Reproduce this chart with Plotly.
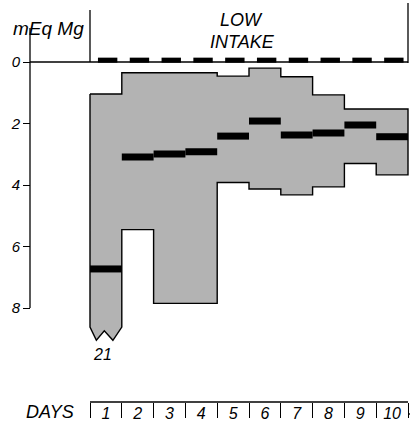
import plotly.graph_objects as go

# ---- data (mEq Mg per day) ----
days = [1, 2, 3, 4, 5, 6, 7, 8, 9, 10]
day_labels = ["1", "2", "3", "4", "5", "6", "7", "8", "9", "10"]
range_low = [1.04, 0.35, 0.35, 0.35, 0.46, 0.20, 0.48, 1.07, 1.53, 1.53]
range_high = [21.0, 5.45, 7.85, 7.85, 3.92, 4.13, 4.32, 4.06, 3.30, 3.67]
mean_vals = [6.73, 3.09, 2.99, 2.92, 2.41, 1.92, 2.37, 2.31, 2.05, 2.43]
intake_vals = [0, 0, 0, 0, 0, 0, 0, 0, 0, 0]
y_ticks = [0, 2, 4, 6, 8]
y_label = "mEq Mg"
intake_label = ["LOW", "INTAKE"]

# ---- style / geometry ----
W, H = 411, 425
ML, MR = 28, 1
PXU_X = 31.8      # px per day
PXU_Y = 30.75     # px per mEq
X0PX, Y0PX = 90, 62   # pixel of day 0 / value 0
AXIS_MAX = 8
BREAK_AT = 8.62
FONT = "Liberation Sans"
GRAY = "#b3b3b3"

def xd(px):
    return (px - X0PX) / PXU_X

def yd(py):
    return (py - Y0PX) / PXU_Y

def xp(px):
    return (px - ML) / (W - ML - MR)

def yp(py):
    return (H - py) / H

# polygon for range band
px_, py_ = [], []
for d, lo in zip(days, range_low):
    px_ += [d - 1, d]
    py_ += [lo, lo]
for d, hi in reversed(list(zip(days, range_high))):
    if hi <= AXIS_MAX:
        px_ += [d, d - 1]
        py_ += [hi, hi]
    else:
        b = BREAK_AT
        px_ += [d, d - 1 + 0.72, d - 1 + 0.45, d - 1 + 0.2, d - 1]
        py_ += [b, b + 0.43, b + 0.12, b + 0.43, b]
px_.append(px_[0])
py_.append(py_[0])

fig = go.Figure()
fig.add_trace(go.Scatter(x=px_, y=py_, mode="lines", fill="toself",
                         fillcolor=GRAY, line=dict(color="black", width=1.4),
                         hoverinfo="skip"))

mx, my = [], []
for d, m in zip(days, mean_vals):
    mx += [d - 1, d, None]
    my += [m, m, None]
fig.add_trace(go.Scatter(x=mx, y=my, mode="lines",
                         line=dict(color="black", width=7), hoverinfo="skip"))

ix, iy = [], []
for d, v in zip(days, intake_vals):
    ix += [d - 1 + 0.25, d - 1 + 0.86, None]
    iy += [v - 0.06, v - 0.06, None]
fig.add_trace(go.Scatter(x=ix, y=iy, mode="lines",
                         line=dict(color="black", width=5), hoverinfo="skip"))

line = dict(color="black", width=1.3)
shapes = [
    dict(type="line", x0=xd(30), x1=xd(30), y0=yd(28), y1=AXIS_MAX, line=line),
    dict(type="line", x0=xd(30), x1=days[-1], y0=0, y1=0, line=line),
    dict(type="line", x0=0, x1=0, y0=yd(10), y1=0, line=line),
    dict(type="line", x0=days[-1], x1=days[-1], y0=yd(3), y1=0.03, line=line),
    dict(type="line", x0=0, x1=days[-1], y0=yd(402), y1=yd(402), line=line),
    dict(type="line", x0=days[-1], x1=days[-1] + 0.06, y0=yd(414), y1=yd(414), line=line),
]

ann = [
    dict(x=xp(12), y=yp(28), text=y_label, xanchor="left", size=19),
    dict(x=xp(241), y=yp(20.5), text=intake_label[0], size=18),
    dict(x=xp(242), y=yp(42), text=intake_label[1], size=18),
    dict(x=xp(102), y=yp(354), text=f"{range_high[0]:g}", size=16),
    dict(x=xp(25), y=yp(412), text="DAYS", xanchor="left"),
]
annotations = []
for a in ann:
    annotations.append(dict(
        x=a["x"], y=a["y"], xref="paper", yref="paper", text=a["text"],
        showarrow=False, xanchor=a.get("xanchor", "center"), yanchor="middle",
        borderpad=0,
        font=dict(family=FONT, size=a.get("size", 18), color="black", style="italic")))

fig.update_layout(
    width=W, height=H, margin=dict(l=ML, r=MR, t=0, b=0),
    plot_bgcolor="white", paper_bgcolor="white", showlegend=False,
    shapes=shapes, annotations=annotations,
    xaxis=dict(range=[xd(ML), xd(W - MR)], anchor="free", position=yp(402),
               showgrid=False, zeroline=False, showline=False,
               tickmode="array", tickvals=[d - 0.5 for d in days], ticktext=day_labels,
               ticks="", tickfont=dict(family=FONT, size=16, color="black", style="italic"),
               minor=dict(tickmode="array", tickvals=[0] + days, ticks="outside",
                          ticklen=15, tickwidth=1.2, tickcolor="black", showgrid=False)),
    yaxis=dict(range=[yd(H), yd(0)], anchor="free", position=xp(30),
               showgrid=False, zeroline=False, showline=False,
               tickmode="array", tickvals=y_ticks, ticks="outside", ticklen=7,
               tickwidth=1.2, tickcolor="black",
               tickfont=dict(family=FONT, size=15, color="black", style="italic")),
)

fig.write_html("out.html")
